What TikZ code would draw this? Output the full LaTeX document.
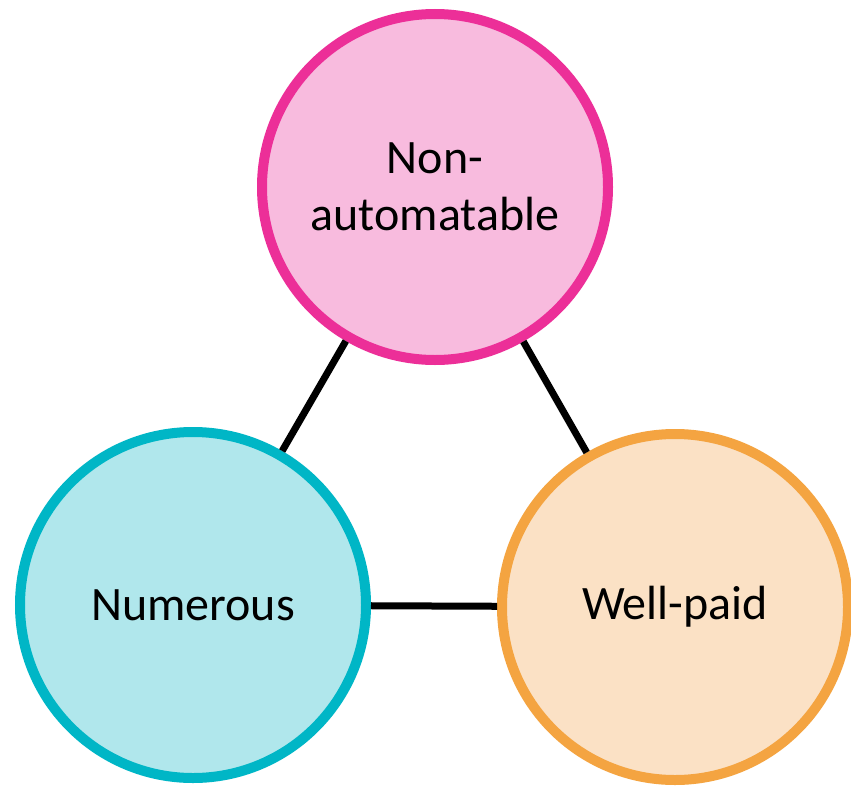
\documentclass[tikz,border=0pt]{standalone}
\usepackage{fontspec}
\setmainfont{Carlito}
\definecolor{pinkfill}{HTML}{F8BBDE}
\definecolor{pinkline}{HTML}{EC2F98}
\definecolor{cyanfill}{HTML}{B0E7EC}
\definecolor{cyanline}{HTML}{00B6C6}
\definecolor{orangefill}{HTML}{FBE1C5}
\definecolor{orangeline}{HTML}{F4A441}
\begin{document}
\begin{tikzpicture}[x=1pt,y=-1pt,
  bubble/.style={circle, line width=10pt, minimum size=346pt, inner sep=0pt,
    align=center, font=\fontsize{48}{57}\selectfont},
  link/.style={line width=7pt, black}]
\useasboundingbox (0,0) rectangle (851,787);
\node[bubble, draw=pinkline, fill=pinkfill] (top) at (435,187) {Non-\\automatable};
\node[bubble, draw=cyanline, fill=cyanfill] (left) at (193,605) {Numerous};
\node[bubble, draw=orangeline, fill=orangefill] (right) at (675,607) {Well-paid};
\draw[link] (top) -- (left);
\draw[link] (top) -- (right);
\draw[link] (left) -- (right);
\end{tikzpicture}
\end{document}
